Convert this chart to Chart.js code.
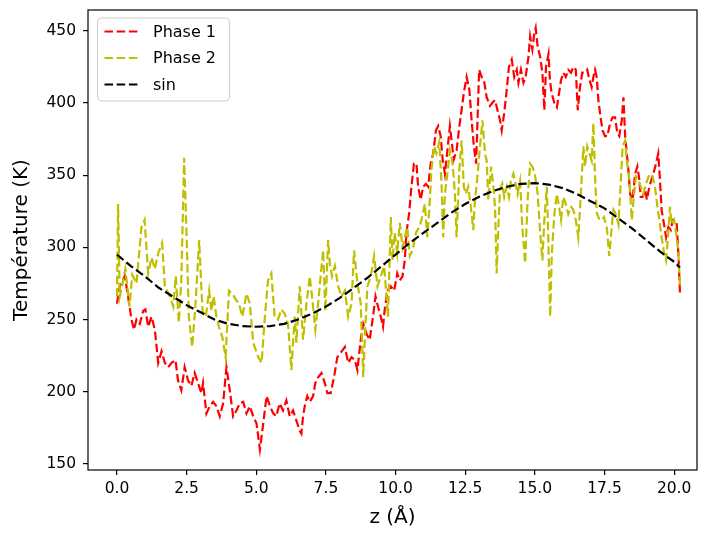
<!DOCTYPE html>
<html>
<head>
<meta charset="utf-8">
<script src="https://cdn.jsdelivr.net/npm/chart.js@4.4.1/dist/chart.umd.min.js"></script>
<style>
  html, body { margin: 0; padding: 0; background: #fff; }
  #wrap { width: 702px; height: 533px; }
</style>
</head>
<body>
<div id="wrap"><canvas id="tempChart" width="702" height="533"></canvas></div>
<script>
// values
const seriesNames = ['Phase 1', 'Phase 2', 'sin'];

const phase1Z = [
  0, 0.1, 0.28, 0.4, 0.52, 0.61, 0.7, 0.82, 0.94, 1.02,
  1.12, 1.24, 1.36, 1.48, 1.6, 1.72, 1.84, 1.96, 2.1, 2.19,
  2.31, 2.43, 2.55, 2.67, 2.79, 2.91, 3.03, 3.09, 3.21, 3.33,
  3.45, 3.57, 3.69, 3.81, 3.93, 4.05, 4.17, 4.29, 4.41, 4.53,
  4.65, 4.77, 4.89, 5.01, 5.13, 5.25, 5.37, 5.49, 5.61, 5.72,
  5.84, 5.96, 6.08, 6.2, 6.32, 6.44, 6.56, 6.62, 6.68, 6.74,
  6.83, 6.92, 7.04, 7.12, 7.22, 7.34, 7.46, 7.55, 7.67, 7.79,
  7.91, 8.03, 8.18, 8.3, 8.42, 8.54, 8.63, 8.75, 8.84, 8.96,
  9.07, 9.19, 9.28, 9.37, 9.47, 9.55, 9.61, 9.71, 9.83, 9.95,
  10.06, 10.15, 10.25, 10.33, 10.39, 10.49, 10.57, 10.66, 10.75, 10.81,
  10.9, 10.99, 11.09, 11.17, 11.26, 11.35, 11.45, 11.53, 11.62, 11.69,
  11.77, 11.86, 11.95, 12.01, 12.09, 12.19, 12.29, 12.37, 12.45, 12.55,
  12.65, 12.73, 12.81, 12.89, 12.93, 13.0, 13.09, 13.17, 13.27, 13.39,
  13.47, 13.57, 13.66, 13.75, 13.81, 13.9, 13.99, 14.07, 14.17, 14.26,
  14.35, 14.41, 14.5, 14.59, 14.67, 14.77, 14.83, 14.91, 14.98, 15.03,
  15.1, 15.19, 15.27, 15.34, 15.4, 15.49, 15.54, 15.6, 15.7, 15.79,
  15.87, 15.94, 16.02, 16.11, 16.2, 16.3, 16.38, 16.47, 16.54, 16.62,
  16.7, 16.8, 16.88, 16.96, 17.04, 17.1, 17.16, 17.22, 17.28, 17.36,
  17.43, 17.52, 17.6, 17.7, 17.79, 17.88, 17.96, 18.03, 18.12, 18.18,
  18.24, 18.3, 18.36, 18.42, 18.51, 18.6, 18.68, 18.75, 18.8, 18.87,
  18.96, 19.02, 19.11, 19.19, 19.28, 19.35, 19.43, 19.49, 19.55, 19.61,
  19.71, 19.79, 19.88, 19.95, 20.03, 20.09, 20.15, 20.21
];
const phase1T = [
  261, 273, 280, 266, 250, 243, 250, 247, 256, 257,
  245, 252, 243, 220, 228, 220, 217, 220, 222, 208,
  201, 217, 208, 204, 213, 206, 199, 206, 185, 190,
  193, 190, 183, 192, 217, 201, 183, 187, 192, 193,
  185, 190, 183, 178, 160, 178, 197, 190, 185, 183,
  192, 187, 194, 183, 187, 180, 173, 171, 183, 190,
  197, 193, 197, 206, 210, 213, 206, 199, 199, 210,
  224, 227, 231, 220, 224, 222, 215, 236, 247, 240,
  236, 252, 266, 259, 252, 245, 257, 270, 273, 270,
  282, 277, 280, 291, 310, 324, 342, 358, 358, 342,
  333, 342, 344, 342, 358, 365, 381, 384, 377, 361,
  351, 367, 384, 374, 361, 367, 384, 395, 407, 418,
  409, 388, 370, 358, 381, 423, 418, 416, 404, 398,
  400, 402, 395, 388, 381, 393, 409, 425, 430, 418,
  423, 414, 423, 414, 418, 432, 446, 437, 448, 452,
  439, 432, 421, 395, 425, 434, 416, 407, 400, 397,
  407, 416, 421, 418, 423, 421, 425, 423, 395, 411,
  421, 421, 423, 416, 411, 418, 423, 418, 402, 390,
  381, 377, 377, 386, 390, 390, 379, 377, 388, 404,
  377, 365, 353, 337, 333, 351, 356, 347, 335, 335,
  340, 333, 342, 347, 353, 358, 365, 347, 326, 319,
  307, 314, 312, 319, 319, 317, 296, 268
];

const phase2Z = [
  0, 0.04, 0.1, 0.2, 0.3, 0.45, 0.55, 0.7, 0.88, 0.99,
  1.12, 1.24, 1.36, 1.48, 1.62, 1.72, 1.9, 2.02, 2.11, 2.22,
  2.31, 2.41, 2.49, 2.58, 2.7, 2.82, 2.95, 3.07, 3.19, 3.31,
  3.39, 3.47, 3.57, 3.66, 3.78, 3.9, 4.02, 4.14, 4.26, 4.38,
  4.5, 4.65, 4.77, 4.89, 5.07, 5.19, 5.31, 5.42, 5.54, 5.66,
  5.78, 5.9, 6.02, 6.14, 6.26, 6.38, 6.44, 6.56, 6.68, 6.8,
  6.92, 7.04, 7.12, 7.22, 7.31, 7.4, 7.48, 7.58, 7.64, 7.72,
  7.82, 7.94, 8.06, 8.18, 8.3, 8.42, 8.51, 8.63, 8.75, 8.84,
  8.92, 8.99, 9.11, 9.23, 9.35, 9.47, 9.59, 9.73, 9.83, 9.89,
  9.97, 10.06, 10.15, 10.25, 10.33, 10.42, 10.51, 10.61, 10.73, 10.85,
  10.93, 11.05, 11.14, 11.21, 11.29, 11.38, 11.47, 11.57, 11.65, 11.71,
  11.77, 11.86, 11.95, 12.05, 12.13, 12.19, 12.29, 12.37, 12.45, 12.52,
  12.61, 12.69, 12.79, 12.85, 12.93, 13.03, 13.12, 13.21, 13.27, 13.33,
  13.43, 13.51, 13.57, 13.63, 13.69, 13.75, 13.83, 13.9, 13.99, 14.07,
  14.14, 14.23, 14.31, 14.38, 14.47, 14.55, 14.65, 14.74, 14.83, 14.91,
  15.0, 15.1, 15.19, 15.27, 15.34, 15.43, 15.48, 15.55, 15.61, 15.7,
  15.79, 15.87, 15.94, 16.02, 16.11, 16.2, 16.3, 16.38, 16.47, 16.56,
  16.66, 16.74, 16.8, 16.88, 16.96, 17.04, 17.1, 17.16, 17.22, 17.32,
  17.4, 17.48, 17.58, 17.67, 17.76, 17.82, 17.91, 18.0, 18.08, 18.15,
  18.24, 18.3, 18.39, 18.48, 18.56, 18.63, 18.72, 18.8, 18.89, 18.99,
  19.08, 19.16, 19.23, 19.31, 19.4, 19.47, 19.55, 19.64, 19.71, 19.79,
  19.85, 19.91, 20.0, 20.07, 20.15, 20.21
];
const phase2T = [
  266, 330, 266, 275, 285, 259, 281, 275, 314, 319,
  282, 293, 285, 296, 303, 273, 266, 259, 280, 248,
  277, 362, 314, 252, 231, 261, 305, 256, 252, 270,
  256, 266, 252, 245, 238, 224, 270, 268, 264, 261,
  252, 268, 261, 234, 224, 220, 252, 277, 282, 252,
  250, 257, 254, 247, 215, 252, 234, 273, 236, 261,
  280, 259, 243, 261, 280, 298, 256, 305, 289, 280,
  287, 273, 266, 270, 252, 261, 298, 275, 261, 210,
  247, 273, 280, 294, 273, 280, 287, 252, 321, 291,
  310, 296, 317, 300, 307, 314, 294, 298, 310, 314,
  319, 330, 307, 326, 354, 370, 365, 373, 344, 307,
  337, 351, 367, 358, 337, 307, 354, 374, 342, 337,
  342, 330, 312, 333, 347, 370, 388, 365, 360, 333,
  356, 342, 328, 282, 314, 340, 344, 335, 342, 335,
  346, 351, 344, 337, 346, 314, 289, 333, 358, 356,
  351, 337, 310, 291, 319, 342, 307, 252, 296, 323,
  337, 328, 319, 335, 330, 323, 328, 326, 319, 307,
  340, 370, 356, 370, 365, 360, 386, 349, 324, 319,
  319, 321, 314, 294, 314, 326, 323, 316, 344, 370,
  374, 360, 347, 319, 337, 349, 347, 342, 337, 344,
  349, 351, 349, 342, 328, 319, 307, 296, 291, 310,
  328, 316, 319, 310, 296, 273
];

const sinZ = [
  0, 0.5, 1, 1.5, 2, 2.5, 3, 3.5, 4, 4.5,
  5, 5.5, 6, 6.5, 7, 7.5, 8, 8.5, 9, 9.5,
  10, 10.5, 11, 11.5, 12, 12.5, 13, 13.5, 14, 14.5,
  15, 15.5, 16, 16.5, 17, 17.5, 18, 18.5, 19, 19.5,
  20, 20.21
];
const sinT = [
  295, 287, 280, 272, 266, 260, 255, 250, 247, 245.5,
  245, 245.5, 247, 250, 254, 259, 265, 272, 279, 287,
  295, 303, 310, 317, 324, 330, 335, 339, 342, 344,
  344.5, 343.5, 341, 337, 332, 327, 320, 313, 305, 297,
  290, 286
];

const xTicks = [0, 2.5, 5, 7.5, 10, 12.5, 15, 17.5, 20];
const yTicks = [150, 200, 250, 300, 350, 400, 450];

function toPoints(xs, ys) {
  return xs.map(function (x, i) { return { x: x, y: ys[i] }; });
}

const FONT = '"DejaVu Sans", sans-serif';
const DASH = [8.5, 3.7];

// frame around the plot area (all four spines)
const frameBox = {
  id: 'frameBox',
  afterDatasetsDraw(chart) {
    const a = chart.chartArea;
    const ctx = chart.ctx;
    ctx.save();
    ctx.strokeStyle = '#000';
    ctx.lineWidth = 1.2;
    ctx.strokeRect(a.left, a.top, a.right - a.left, a.bottom - a.top);
    ctx.restore();
  }
};

// legend drawn inside the axes, upper left
const innerLegend = {
  id: 'innerLegend',
  afterDraw(chart) {
    const a = chart.chartArea;
    const ctx = chart.ctx;
    const x0 = a.left + 9.5, y0 = a.top + 8, w = 132, h = 83, r = 4;
    ctx.save();
    ctx.beginPath();
    ctx.moveTo(x0 + r, y0);
    ctx.arcTo(x0 + w, y0, x0 + w, y0 + h, r);
    ctx.arcTo(x0 + w, y0 + h, x0, y0 + h, r);
    ctx.arcTo(x0, y0 + h, x0, y0, r);
    ctx.arcTo(x0, y0, x0 + w, y0, r);
    ctx.closePath();
    ctx.fillStyle = 'rgba(255,255,255,0.8)';
    ctx.fill();
    ctx.strokeStyle = '#cccccc';
    ctx.lineWidth = 1;
    ctx.stroke();

    chart.data.datasets.forEach(function (ds, i) {
      const yy = y0 + 13.5 + i * 26.5;
      ctx.setLineDash(ds.borderDash);
      ctx.strokeStyle = ds.borderColor;
      ctx.lineWidth = ds.borderWidth;
      ctx.beginPath();
      ctx.moveTo(x0 + 7, yy);
      ctx.lineTo(x0 + 41, yy);
      ctx.stroke();
      ctx.setLineDash([]);
      ctx.fillStyle = '#000';
      ctx.font = '16px ' + FONT;
      ctx.textBaseline = 'middle';
      ctx.textAlign = 'left';
      ctx.fillText(ds.label, x0 + 55.5, yy + 1);
    });
    ctx.restore();
  }
};

const ctx = document.getElementById('tempChart').getContext('2d');

new Chart(ctx, {
  type: 'scatter',
  data: {
    datasets: [
      {
        label: seriesNames[0],
        data: toPoints(phase1Z, phase1T),
        borderColor: '#ff0000',
        order: 3
      },
      {
        label: seriesNames[1],
        data: toPoints(phase2Z, phase2T),
        borderColor: '#bfbf00',
        order: 2
      },
      {
        label: seriesNames[2],
        data: toPoints(sinZ, sinT),
        borderColor: '#000000',
        order: 1
      }
    ].map(function (ds) {
      return Object.assign(ds, {
        showLine: true,
        pointRadius: 0,
        borderWidth: 2.2,
        borderDash: DASH,
        fill: false,
        tension: 0
      });
    })
  },
  options: {
    responsive: false,
    animation: false,
    devicePixelRatio: 1,
    events: [],
    layout: { padding: { left: 0, right: 5, top: 10, bottom: 0 } },
    plugins: {
      legend: { display: false },
      tooltip: { enabled: false }
    },
    scales: {
      x: {
        type: 'linear',
        min: -1.04,
        max: 20.82,
        afterBuildTicks: function (scale) {
          scale.ticks = xTicks.map(function (v) { return { value: v }; });
        },
        afterFit: function (scale) {
          scale.height = 63;
          scale.paddingLeft = 0;
          scale.paddingRight = 0;
        },
        ticks: {
          autoSkip: false,
          maxRotation: 0,
          padding: 5,
          color: '#000',
          font: { family: FONT, size: 15.5 },
          callback: function (v) { return v.toFixed(1); }
        },
        grid: {
          drawOnChartArea: false,
          drawTicks: true,
          tickLength: 5,
          color: '#000',
          lineWidth: 1.2
        },
        border: { display: false },
        title: {
          display: true,
          text: 'z (Å)',
          color: '#000',
          font: { family: FONT, size: 20 },
          padding: { top: 0, bottom: 3 }
        }
      },
      y: {
        type: 'linear',
        min: 145.8,
        max: 464.4,
        afterBuildTicks: function (scale) {
          scale.ticks = yTicks.map(function (v) { return { value: v }; });
        },
        afterFit: function (scale) {
          scale.width = 88;
          scale.paddingTop = 0;
          scale.paddingBottom = 0;
        },
        ticks: {
          autoSkip: false,
          padding: 7,
          color: '#000',
          font: { family: FONT, size: 15.5 },
          callback: function (v) { return String(v); }
        },
        grid: {
          drawOnChartArea: false,
          drawTicks: true,
          tickLength: 5,
          color: '#000',
          lineWidth: 1.2
        },
        border: { display: false },
        title: {
          display: true,
          text: 'Température (K)',
          color: '#000',
          font: { family: FONT, size: 20 },
          padding: { top: 10, bottom: 0 }
        }
      }
    }
  },
  plugins: [frameBox, innerLegend]
});
</script>
</body>
</html>
